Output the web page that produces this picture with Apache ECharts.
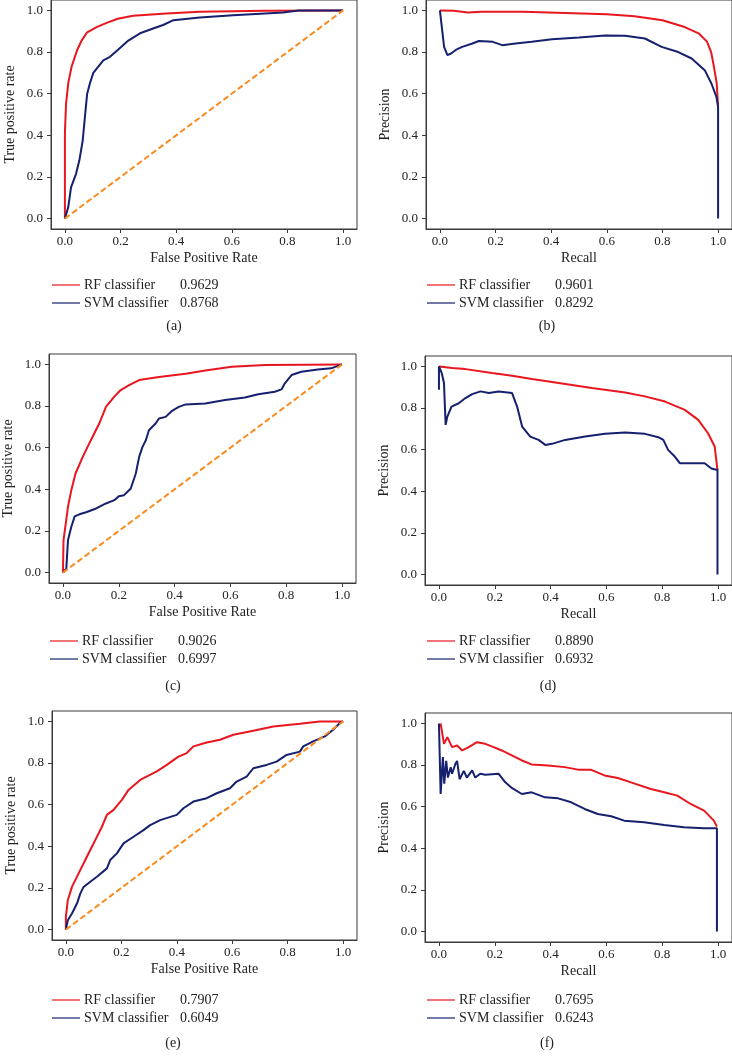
<!DOCTYPE html>
<html lang="en">
<head>
    <meta charset="UTF-8">
    <title>ROC / PR curves</title>
    <style>
        html, body { margin: 0; padding: 0; background: #fff; }
    </style>
</head>
<body>
<div id="main" style="width: 732px;height:1057px;"></div>
<script src="https://cdn.jsdelivr.net/npm/echarts@6.0.0/dist/echarts.min.js"></script>
<script>
    // ---- data ----
    var tickValues = [0, 0.2, 0.4, 0.6, 0.8, 1.0];
    var seriesNames = ['RF classifier', 'SVM classifier'];
    var panelLabels = ['(a)', '(b)', '(c)', '(d)', '(e)', '(f)'];
    var diagonal = [[0, 0], [1, 1]];

    // (a) ROC
    var rocA_rf = [[0,0],[0,0.41],[0.004,0.55],[0.012,0.65],[0.024,0.73],[0.044,0.81],[0.06,0.855],[0.08,0.895],[0.114,0.92],[0.15,0.94],[0.19,0.96],[0.245,0.974],[0.365,0.985],[0.485,0.994],[0.72,0.998],[1,1]];
    var rocA_svm = [[0,0],[0.012,0.055],[0.022,0.15],[0.04,0.215],[0.052,0.28],[0.064,0.375],[0.072,0.49],[0.08,0.6],[0.09,0.65],[0.102,0.7],[0.12,0.73],[0.138,0.76],[0.162,0.777],[0.19,0.81],[0.228,0.855],[0.27,0.89],[0.317,0.913],[0.353,0.93],[0.39,0.953],[0.485,0.966],[0.605,0.977],[0.784,0.99],[0.84,1.0],[1,1]];
    var aucA = [0.9629, 0.8768];

    // (b) PR
    var prB_rf = [[0,1.0],[0.05,0.998],[0.1,0.99],[0.15,0.993],[0.3,0.993],[0.45,0.988],[0.6,0.982],[0.7,0.972],[0.8,0.953],[0.88,0.92],[0.93,0.89],[0.96,0.85],[0.975,0.8],[0.985,0.73],[0.995,0.65],[1.0,0.54]];
    var prB_svm = [[0,1.0],[0.015,0.825],[0.027,0.785],[0.04,0.793],[0.057,0.81],[0.08,0.825],[0.117,0.841],[0.14,0.853],[0.19,0.849],[0.224,0.833],[0.272,0.841],[0.33,0.849],[0.403,0.861],[0.5,0.87],[0.594,0.88],[0.666,0.878],[0.737,0.865],[0.797,0.825],[0.857,0.8],[0.905,0.769],[0.952,0.713],[0.976,0.649],[0.994,0.585],[1.0,0.537],[1.0,0]];
    var apB = [0.9601, 0.8292];

    // (c) ROC
    var rocC_rf = [[0,0],[0.002,0.155],[0.018,0.316],[0.03,0.396],[0.045,0.476],[0.071,0.556],[0.1,0.636],[0.13,0.716],[0.154,0.796],[0.184,0.845],[0.207,0.877],[0.237,0.9],[0.273,0.925],[0.344,0.94],[0.44,0.955],[0.51,0.971],[0.605,0.989],[0.724,0.997],[1,1]];
    var rocC_svm = [[0,0],[0.012,0.019],[0.018,0.155],[0.03,0.22],[0.042,0.27],[0.059,0.28],[0.083,0.29],[0.119,0.308],[0.154,0.332],[0.184,0.348],[0.2,0.367],[0.219,0.372],[0.243,0.404],[0.249,0.412],[0.261,0.476],[0.273,0.556],[0.285,0.604],[0.297,0.636],[0.308,0.684],[0.332,0.716],[0.344,0.74],[0.368,0.748],[0.391,0.777],[0.415,0.796],[0.44,0.808],[0.51,0.812],[0.581,0.829],[0.652,0.841],[0.7,0.857],[0.759,0.869],[0.783,0.88],[0.795,0.909],[0.819,0.949],[0.854,0.965],[0.913,0.976],[0.961,0.981],[1,1]];
    var aucC = [0.9026, 0.6997];

    // (d) PR
    var prD_rf = [[0,1.0],[0.048,0.992],[0.095,0.987],[0.19,0.968],[0.262,0.955],[0.333,0.939],[0.429,0.92],[0.548,0.896],[0.667,0.875],[0.738,0.856],[0.81,0.831],[0.881,0.791],[0.929,0.743],[0.964,0.679],[0.988,0.615],[0.998,0.502]];
    var prD_svm = [[0,0.888],[0,1.0],[0.01,0.968],[0.018,0.92],[0.02,0.85],[0.024,0.719],[0.03,0.759],[0.045,0.807],[0.071,0.823],[0.095,0.848],[0.119,0.867],[0.149,0.88],[0.179,0.872],[0.214,0.88],[0.262,0.872],[0.28,0.807],[0.298,0.711],[0.327,0.663],[0.357,0.647],[0.381,0.623],[0.405,0.628],[0.452,0.647],[0.524,0.663],[0.595,0.676],[0.667,0.682],[0.738,0.676],[0.786,0.66],[0.804,0.647],[0.821,0.599],[0.845,0.567],[0.863,0.535],[0.929,0.535],[0.952,0.535],[0.976,0.51],[0.998,0.502],[0.998,0]];
    var apD = [0.8890, 0.6932];

    // (e) ROC
    var rocE_rf = [[0,0],[0,0.061],[0.007,0.141],[0.022,0.205],[0.046,0.27],[0.07,0.334],[0.088,0.382],[0.106,0.43],[0.13,0.494],[0.148,0.551],[0.172,0.575],[0.202,0.623],[0.226,0.671],[0.268,0.719],[0.328,0.76],[0.364,0.791],[0.406,0.831],[0.436,0.848],[0.46,0.88],[0.508,0.899],[0.556,0.912],[0.604,0.936],[0.676,0.955],[0.748,0.976],[0.844,0.989],[0.916,1.0],[1,1]];
    var rocE_svm = [[0,0],[0.007,0.045],[0.022,0.077],[0.04,0.125],[0.052,0.173],[0.064,0.205],[0.088,0.23],[0.112,0.254],[0.148,0.294],[0.16,0.334],[0.184,0.366],[0.208,0.414],[0.244,0.446],[0.28,0.478],[0.304,0.502],[0.34,0.526],[0.4,0.551],[0.424,0.583],[0.46,0.615],[0.508,0.631],[0.544,0.655],[0.592,0.679],[0.616,0.711],[0.652,0.735],[0.676,0.775],[0.724,0.791],[0.76,0.807],[0.796,0.839],[0.844,0.855],[0.856,0.88],[0.892,0.904],[0.934,0.928],[0.964,0.96],[0.988,0.992],[1,1]];
    var aucE = [0.7907, 0.6049];

    // (f) PR
    var prF_rf = [[0.006,1.0],[0.012,1.0],[0.018,0.902],[0.03,0.934],[0.047,0.886],[0.065,0.894],[0.083,0.87],[0.107,0.886],[0.136,0.91],[0.166,0.902],[0.196,0.886],[0.225,0.87],[0.261,0.846],[0.297,0.822],[0.332,0.803],[0.391,0.798],[0.451,0.79],[0.498,0.778],[0.546,0.777],[0.593,0.75],[0.641,0.738],[0.688,0.717],[0.759,0.685],[0.807,0.669],[0.854,0.653],[0.902,0.613],[0.95,0.581],[0.985,0.533],[0.996,0.504]];
    var prF_svm = [[0,1.0],[0.006,0.661],[0.014,0.838],[0.019,0.71],[0.026,0.82],[0.032,0.74],[0.042,0.789],[0.047,0.758],[0.059,0.806],[0.065,0.82],[0.074,0.732],[0.089,0.772],[0.1,0.74],[0.119,0.774],[0.13,0.74],[0.148,0.758],[0.166,0.753],[0.214,0.758],[0.237,0.718],[0.261,0.69],[0.297,0.661],[0.332,0.669],[0.38,0.645],[0.427,0.64],[0.474,0.621],[0.522,0.589],[0.569,0.565],[0.617,0.554],[0.664,0.533],[0.735,0.525],[0.807,0.512],[0.878,0.501],[0.949,0.496],[0.996,0.496],[0.996,0]];
    var apF = [0.7695, 0.6243];

    // ---- layout ----
    var FONT = 'Liberation Serif';
    var RED = '#e8161e', NAVY = '#15206e', ORANGE = '#fb8a1c', AXIS = '#3a3a3a';

    var panels = [
        {rf: rocA_rf, svm: rocA_svm, score: aucA, roc: true,  grid: {left: 51, top: 0,   width: 306, height: 229}, leg: {x: 52,  y: 285},  cap: {x: 174, y: 326}},
        {rf: prB_rf,  svm: prB_svm,  score: apB,  roc: false, grid: {left: 426, top: 0,  width: 307, height: 229}, leg: {x: 427, y: 285},  cap: {x: 547, y: 326}},
        {rf: rocC_rf, svm: rocC_svm, score: aucC, roc: true,  grid: {left: 49, top: 354, width: 307, height: 229}, leg: {x: 50,  y: 641},  cap: {x: 173, y: 686}},
        {rf: prD_rf,  svm: prD_svm,  score: apD,  roc: false, grid: {left: 425, top: 356, width: 308, height: 229}, leg: {x: 427, y: 641}, cap: {x: 548, y: 686}},
        {rf: rocE_rf, svm: rocE_svm, score: aucE, roc: true,  grid: {left: 52, top: 711, width: 305, height: 229}, leg: {x: 52,  y: 1000}, cap: {x: 173, y: 1043}},
        {rf: prF_rf,  svm: prF_svm,  score: apF,  roc: false, grid: {left: 425, top: 713, width: 308, height: 229}, leg: {x: 427, y: 1000}, cap: {x: 547, y: 1043}}
    ];

    function axisCommon(i) {
        return {
            type: 'value',
            gridIndex: i,
            min: -0.05,
            max: 1.05,
            nameLocation: 'middle',
            nameTextStyle: {fontFamily: FONT, fontSize: 14, color: '#222'},
            axisLine: {show: true, onZero: false, lineStyle: {color: AXIS, width: 1}},
            axisTick: {show: true, length: 4, customValues: tickValues, lineStyle: {color: AXIS}},
            axisLabel: {
                customValues: tickValues,
                fontFamily: FONT, fontSize: 13, color: '#222',
                formatter: function (v) { return v.toFixed(1); }
            },
            splitLine: {show: false}
        };
    }

    var grids = [], xAxes = [], yAxes = [], series = [], graphics = [];
    panels.forEach(function (p, i) {
        grids.push({
            left: p.grid.left, top: p.grid.top, width: p.grid.width, height: p.grid.height,
            show: true, borderColor: AXIS, borderWidth: 1, backgroundColor: 'transparent'
        });
        var xa = axisCommon(i);
        xa.name = p.roc ? 'False Positive Rate' : 'Recall';
        xa.nameGap = 22;
        xa.axisLabel.margin = 6;
        xAxes.push(xa);
        var ya = axisCommon(i);
        ya.name = p.roc ? 'True positive rate' : 'Precision';
        ya.nameGap = 34;
        ya.axisLabel.margin = 8;
        yAxes.push(ya);

        series.push({
            name: seriesNames[0], type: 'line', xAxisIndex: i, yAxisIndex: i,
            data: p.rf, showSymbol: false, symbol: 'none', animation: false,
            lineStyle: {color: RED, width: 2}, z: 2
        });
        series.push({
            name: seriesNames[1], type: 'line', xAxisIndex: i, yAxisIndex: i,
            data: p.svm, showSymbol: false, symbol: 'none', animation: false,
            lineStyle: {color: NAVY, width: 2}, z: 3
        });
        if (p.roc) {
            series.push({
                name: 'diagonal', type: 'line', xAxisIndex: i, yAxisIndex: i,
                data: diagonal, showSymbol: false, symbol: 'none', animation: false,
                lineStyle: {color: ORANGE, width: 2, type: [6, 3]}, z: 4
            });
        }

        // legend block: line, name, score
        var colors = [RED, NAVY];
        for (var k = 0; k < 2; k++) {
            var ly = p.leg.y + k * 18;
            graphics.push({
                type: 'line',
                shape: {x1: p.leg.x, y1: ly, x2: p.leg.x + 28, y2: ly},
                style: {stroke: colors[k], lineWidth: 1.2}
            });
            graphics.push({
                type: 'text', x: p.leg.x + 32, y: ly,
                style: {text: seriesNames[k], font: '14px "' + FONT + '"', fill: '#222', verticalAlign: 'middle'}
            });
            graphics.push({
                type: 'text', x: p.leg.x + 128, y: ly,
                style: {text: p.score[k].toFixed(4), font: '14px "' + FONT + '"', fill: '#222', verticalAlign: 'middle'}
            });
        }
        graphics.push({
            type: 'text', x: p.cap.x, y: p.cap.y,
            style: {text: panelLabels[i], font: '14px "' + FONT + '"', fill: '#222', align: 'center', verticalAlign: 'middle'}
        });
    });

    var myChart = echarts.init(document.getElementById('main'), null, {renderer: 'canvas'});
    myChart.setOption({
        backgroundColor: '#ffffff',
        animation: false,
        grid: grids,
        xAxis: xAxes,
        yAxis: yAxes,
        series: series,
        graphic: graphics
    });
</script>
</body>
</html>
